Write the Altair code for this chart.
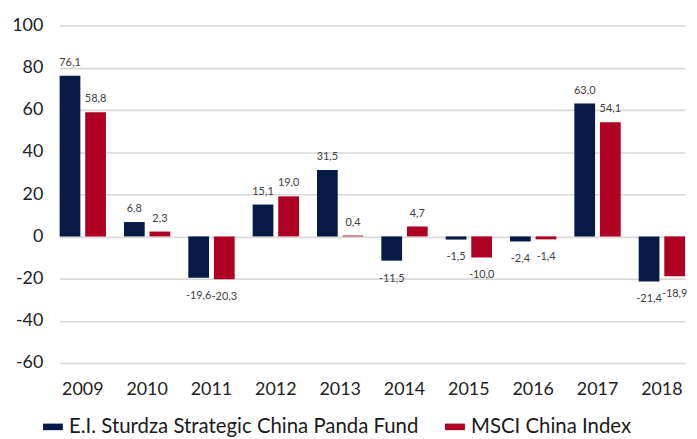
import altair as alt
import pandas as pd

years = ["2009", "2010", "2011", "2012", "2013", "2014", "2015", "2016", "2017", "2018"]
fund = [76.1, 6.8, -19.6, 15.1, 31.5, -11.5, -1.5, -2.4, 63.0, -21.4]
msci = [58.8, 2.3, -20.3, 19.0, 0.4, 4.7, -10.0, -1.4, 54.1, -18.9]
series_names = ["E.I. Sturdza Strategic China Panda Fund", "MSCI China Index"]
colors = ["#071A47", "#AF0023"]

rows = []
for i, y in enumerate(years):
    rows.append({"year": y, "series": series_names[0], "value": fund[i]})
    rows.append({"year": y, "series": series_names[1], "value": msci[i]})
df = pd.DataFrame(rows)

FONT = "Lato"
MINUS = "\u2212"

x_enc = alt.X("year:N", sort=years,
              scale=alt.Scale(paddingInner=0.28, paddingOuter=0),
              axis=alt.Axis(labelAngle=0, title=None, domain=False, ticks=False,
                            labelFontSize=18, labelPadding=18, labelColor="#222222",
                            labelFont=FONT))
xo_enc = alt.XOffset("series:N", sort=series_names, scale=alt.Scale(paddingInner=0.19))
y_enc = alt.Y("value:Q",
              scale=alt.Scale(domain=[-60, 100], nice=False, zero=False),
              axis=alt.Axis(values=list(range(-60, 101, 20)), grid=True, gridColor="#d9d9d9",
                            gridWidth=1.6, domain=False, ticks=False, labelPadding=17,
                            labelFontSize=18, labelColor="#222222", labelFont=FONT, title=None,
                            labelExpr="replace(datum.label, '" + MINUS + "', '-')"))

base = alt.Chart(df).transform_calculate(
    label="replace(replace(format(datum.value, '.1f'), '.', ','), '" + MINUS + "', '-')"
)

bars = base.mark_bar().encode(
    x=x_enc, xOffset=xo_enc, y=y_enc,
    color=alt.Color("series:N", sort=series_names,
                    scale=alt.Scale(domain=series_names, range=colors),
                    legend=alt.Legend(orient="none", legendX=-17, legendY=394,
                                      direction="horizontal", title=None,
                                      symbolType="M-1,-0.33L1,-0.33L1,0.33L-1,0.33Z",
                                      symbolSize=400, symbolStrokeWidth=0,
                                      labelFontSize=20.5, labelFont=FONT, labelColor="#1a1a1a",
                                      labelLimit=600, labelOffset=6, columnPadding=26)),
)

pos_text = base.transform_filter("datum.value >= 0").mark_text(
    fontSize=11, font=FONT, color="#404040", baseline="middle", dy=-13
).encode(x=x_enc, xOffset=xo_enc, y=y_enc, text="label:N")

neg_text = base.transform_filter("datum.value < 0").mark_text(
    fontSize=11, font=FONT, color="#404040", baseline="middle", dy=18
).encode(x=x_enc, xOffset=xo_enc, y=y_enc, text="label:N")

chart = alt.layer(bars, pos_text, neg_text).properties(
    width=630, height=340,
    autosize=alt.AutoSizeParams(type="none"),
    padding={"left": 52, "top": 16, "right": 4, "bottom": 75},
).configure_view(stroke=None)

chart.save("out.html", embed_options={"renderer": "svg", "actions": False})
